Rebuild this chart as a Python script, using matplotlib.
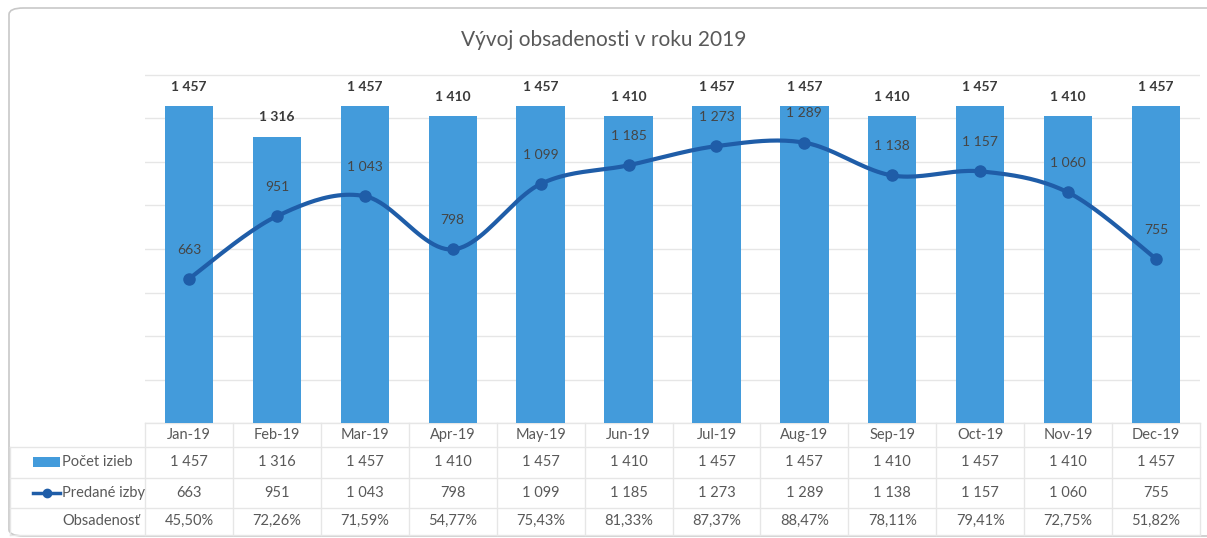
import numpy as np
import matplotlib
matplotlib.use("Agg")
import matplotlib.pyplot as plt
from matplotlib.transforms import blended_transform_factory
from matplotlib.patches import FancyBboxPatch, Rectangle
from matplotlib.lines import Line2D

plt.rcParams['font.family'] = ['Lato', 'DejaVu Sans']

# ---------------- data ----------------
months = ["Jan-19", "Feb-19", "Mar-19", "Apr-19", "May-19", "Jun-19",
          "Jul-19", "Aug-19", "Sep-19", "Oct-19", "Nov-19", "Dec-19"]
rooms_total = [1457, 1316, 1457, 1410, 1457, 1410, 1457, 1457, 1410, 1457, 1410, 1457]
rooms_sold = [663, 951, 1043, 798, 1099, 1185, 1273, 1289, 1138, 1157, 1060, 755]
occupancy = ["45,50%", "72,26%", "71,59%", "54,77%", "75,43%", "81,33%",
             "87,37%", "88,47%", "78,11%", "79,41%", "72,75%", "51,82%"]
series_names = ["Počet izieb", "Predané izby", "Obsadenosť"]
title = "Vývoj obsadenosti v roku 2019"

BAR = "#439BDB"
LINE = "#1F5DA8"
TXT = "#595959"
GRID = "#E6E6E6"

def fmt(v):
    return f"{v:,}".replace(",", " ")

W, H = 1207, 538
fig = plt.figure(figsize=(W / 100, H / 100), dpi=100)

def fx(px):
    return px / W

def fy(py):
    return 1 - py / H

# outer rounded border (right edge runs off the image, as in the reference)
fig.patches.append(FancyBboxPatch((fx(9), fy(536)), fx(1260) - fx(9), fy(8) - fy(536),
                                  boxstyle="round,pad=0,rounding_size=0.012",
                                  transform=fig.transFigure, facecolor="none",
                                  edgecolor="#C8C8C8", linewidth=1.2, zorder=0))

YMAX = 1610
ax = fig.add_axes([fx(145), fy(423), fx(1200) - fx(145), fy(423 - YMAX * 0.2175) - fy(423)])
ax.set_facecolor("none")
ax.set_zorder(2)
x = np.arange(len(months))
ax.set_xlim(-0.5, len(months) - 0.5)
ax.set_ylim(0, YMAX)
ax.set_yticks(np.arange(0, 1601, 200))
ax.yaxis.grid(True, color=GRID, linewidth=1)
ax.set_axisbelow(True)
ax.tick_params(left=False, bottom=False, labelleft=False, labelbottom=False)
for s in ax.spines.values():
    s.set_visible(False)

bars = ax.bar(x, rooms_total, width=0.55, color=BAR, zorder=2)
for xi, v in zip(x, rooms_total):
    ax.annotate(fmt(v), (xi, v), xytext=(0, 14), textcoords="offset points",
                ha="center", va="center", fontsize=10, fontweight="bold",
                color="#3A3A3A", zorder=5, annotation_clip=False)

# smoothed line (Catmull-Rom through data points)
def catmull(xs, ys, n=24):
    P = np.column_stack([xs, ys]).astype(float)
    P = np.vstack([P[0], P, P[-1]])
    out = []
    for i in range(1, len(P) - 2):
        p0, p1, p2, p3 = P[i - 1], P[i], P[i + 1], P[i + 2]
        t = np.linspace(0, 1, n)[:, None]
        c = 0.5 * ((2 * p1) + (-p0 + p2) * t + (2 * p0 - 5 * p1 + 4 * p2 - p3) * t ** 2
                   + (-p0 + 3 * p1 - 3 * p2 + p3) * t ** 3)
        out.append(c)
    return np.vstack(out)

curve = catmull(x, rooms_sold)
ax.plot(curve[:, 0], curve[:, 1], color=LINE, linewidth=3, zorder=3, solid_capstyle="round")
ax.plot(x, rooms_sold, "o", color=LINE, markersize=8, zorder=4)
for xi, v in zip(x, rooms_sold):
    ax.annotate(fmt(v), (xi, v), xytext=(0, 21), textcoords="offset points",
                ha="center", va="center", fontsize=10, color="#454545", zorder=5)

fig.text(0.5, fy(40), title, ha="center", va="center", fontsize=15, color=TXT)

# ---------------- data table ----------------
tr = blended_transform_factory(ax.transData, fig.transFigure)
row_lines = [423, 447, 478, 508, 535]
row_centers = [435, 462, 493, 521]
xl, xr = -0.5, len(months) - 0.5

for i, yl in enumerate(row_lines):
    if i == 0:
        fig.add_artist(Line2D([xl, xr], [fy(yl)] * 2, transform=tr, color=GRID, lw=1))
    else:
        fig.add_artist(Line2D([fx(10), fx(1200)], [fy(yl)] * 2, transform=fig.transFigure,
                              color=GRID, lw=1))
for b in np.arange(-0.5, len(months), 1.0):
    fig.add_artist(Line2D([b, b], [fy(423), fy(535)], transform=tr, color=GRID, lw=1))
fig.add_artist(Line2D([fx(10), fx(10)], [fy(447), fy(535)], transform=fig.transFigure,
                      color=GRID, lw=1))

for xi, m in zip(x, months):
    fig.text(xi, fy(row_centers[0]), m, transform=tr, ha="center", va="center",
             fontsize=10.5, color=TXT)
for r, vals in enumerate([[fmt(v) for v in rooms_total], [fmt(v) for v in rooms_sold], occupancy]):
    for xi, s in zip(x, vals):
        fig.text(xi, fy(row_centers[r + 1]), s, transform=tr, ha="center", va="center",
                 fontsize=10.5, color=TXT)

# legend keys in the table
fig.patches.append(Rectangle((fx(33), fy(467)), fx(60) - fx(33), fy(457) - fy(467),
                             transform=fig.transFigure, facecolor=BAR, edgecolor="none"))
fig.add_artist(Line2D([fx(33), fx(60)], [fy(493)] * 2, transform=fig.transFigure,
                      color=LINE, lw=2.5))
fig.add_artist(Line2D([fx(46.5)], [fy(493)], transform=fig.transFigure, marker="o",
                      color=LINE, markersize=6))
for r, name in enumerate(series_names):
    fig.text(fx(62), fy(row_centers[r + 1]), name, ha="left", va="center",
             fontsize=10.5, color=TXT)

fig.savefig("out.png", dpi=100, facecolor="white")
